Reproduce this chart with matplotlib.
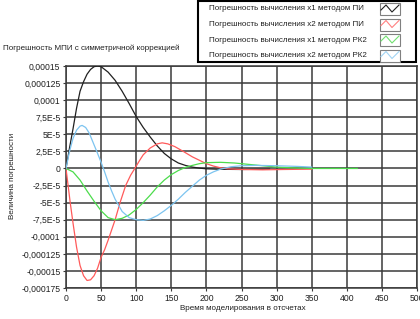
import matplotlib
matplotlib.use("Agg")
import matplotlib.pyplot as plt
from matplotlib.lines import Line2D
from matplotlib.patches import Rectangle
from matplotlib.ticker import FixedLocator, FixedFormatter

plt.rcParams['font.family'] = ['Liberation Sans', 'DejaVu Sans']

# ---- data ----
black_x = [0, 5, 10, 15, 20, 25, 30, 35, 40, 45, 50, 60, 70, 80, 90, 100, 110, 120, 130, 140,
           150, 160, 170, 180, 190, 200, 220, 250, 290]
black_y = [0, 3.0e-5, 5.8e-5, 8.8e-5, 11.3e-5, 12.7e-5, 13.8e-5, 14.5e-5, 14.9e-5, 15.0e-5, 14.9e-5,
           14.1e-5, 12.9e-5, 11.3e-5, 9.5e-5, 7.6e-5, 6.0e-5, 4.6e-5, 3.3e-5, 2.2e-5,
           1.4e-5, 0.8e-5, 0.45e-5, 0.2e-5, 0.05e-5, -0.05e-5, -0.12e-5, -0.15e-5, -0.1e-5]

red_x = [0, 3, 6, 10, 15, 20, 25, 30, 35, 40, 45, 50, 55, 60, 65, 70, 77, 85, 92, 98, 105, 110,
         120, 130, 137, 145, 155, 167, 180, 190, 200, 210, 220, 230, 250, 280, 310, 350]
red_y = [0, -2.5e-5, -5.0e-5, -8.0e-5, -11.5e-5, -14.2e-5, -15.7e-5, -16.4e-5, -16.3e-5, -15.7e-5,
         -14.6e-5, -13.0e-5, -11.9e-5, -10.5e-5, -9.0e-5, -7.5e-5, -5.0e-5, -2.5e-5, -1.0e-5, 0,
         1.2e-5, 2.0e-5, 3.0e-5, 3.6e-5, 3.75e-5, 3.6e-5, 3.2e-5, 2.5e-5, 1.7e-5, 1.2e-5, 0.7e-5,
         0.35e-5, 0.1e-5, -0.05e-5, -0.15e-5, -0.2e-5, -0.15e-5, -0.1e-5]

green_x = [0, 10, 20, 30, 40, 50, 60, 70, 80, 90, 100, 110, 120, 130, 140, 150, 160, 170, 180,
           190, 200, 220, 240, 260, 280, 300, 320, 350, 415]
green_y = [0, -0.5e-5, -1.7e-5, -3.3e-5, -4.8e-5, -6.2e-5, -7.2e-5, -7.5e-5, -7.3e-5, -6.8e-5,
           -6.0e-5, -5.0e-5, -3.9e-5, -2.7e-5, -1.7e-5, -0.9e-5, -0.3e-5, 0.15e-5, 0.45e-5,
           0.7e-5, 0.85e-5, 0.9e-5, 0.8e-5, 0.6e-5, 0.4e-5, 0.2e-5, 0.1e-5, 0, 0]

cyan_x = [0, 5, 10, 15, 20, 23, 28, 33, 39, 45, 50, 55, 60, 65, 70, 80, 90, 100, 110, 120, 130,
          140, 150, 160, 170, 180, 190, 200, 210, 220, 235, 250, 270, 300, 330, 350]
cyan_y = [0, 2.5e-5, 4.4e-5, 5.6e-5, 6.2e-5, 6.3e-5, 6.0e-5, 5.2e-5, 3.7e-5, 2.2e-5, 0.9e-5,
          -0.5e-5, -2.0e-5, -3.3e-5, -4.5e-5, -6.3e-5, -7.2e-5, -7.5e-5, -7.6e-5, -7.4e-5,
          -6.9e-5, -6.2e-5, -5.4e-5, -4.5e-5, -3.5e-5, -2.6e-5, -1.7e-5, -1.0e-5, -0.5e-5,
          -0.1e-5, 0.25e-5, 0.4e-5, 0.45e-5, 0.4e-5, 0.3e-5, 0.2e-5]

series_labels = ["Погрешность вычисления x1 методом ПИ",
                 "Погрешность вычисления x2 методом ПИ",
                 "Погрешность вычисления x1 методом РК2",
                 "Погрешность вычисления x2 методом РК2"]
series_colors = ["#202020", "#ff5a5a", "#4cdc4c", "#7cc4f0"]
legend_colors = ["#202020", "#ff8080", "#70e070", "#a0d4f4"]

x_ticks = [0, 50, 100, 150, 200, 250, 300, 350, 400, 450, 500]
y_ticks = [0.00015, 0.000125, 0.0001, 7.5e-5, 5e-5, 2.5e-5, 0, -2.5e-5, -5e-5, -7.5e-5,
           -0.0001, -0.000125, -0.00015, -0.000175]
y_tick_labels = ["0,00015", "0,000125", "0,0001", "7,5E-5", "5E-5", "2,5E-5", "0",
                 "-2,5E-5", "-5E-5", "-7,5E-5", "-0,0001", "-0,000125", "-0,00015", "-0,000175"]

title_text = "Погрешность МПИ с симметричной коррекцией"
x_label = "Время моделирования в отсчетах"
y_label = "Величина погрешности"

# ---- figure ----
W, H = 420, 319
fs_tick = 6.2
fs_text = 5.8
fig = plt.figure(figsize=(W / 100, H / 100), dpi=100)
fig.patch.set_facecolor("white")
ax = fig.add_axes([66 / W, 1 - 288 / H, (417 - 66) / W, (288 - 66) / H])
ax.set_facecolor("white")

for xs, ys, c in zip([black_x, red_x, green_x, cyan_x], [black_y, red_y, green_y, cyan_y], series_colors):
    ax.plot(xs, ys, color=c, lw=0.9, zorder=3)

ax.set_xlim(0, 500)
ax.set_ylim(-0.000175, 0.00015)
ax.xaxis.set_major_locator(FixedLocator(x_ticks))
ax.yaxis.set_major_locator(FixedLocator(y_ticks))
ax.yaxis.set_major_formatter(FixedFormatter(y_tick_labels))
ax.grid(True, color="#3a3a3a", lw=1.1, zorder=1)
for s in ax.spines.values():
    s.set_color("#3a3a3a")
    s.set_linewidth(1.1)
ax.tick_params(axis="both", labelsize=fs_tick, length=2.5, width=0.8, color="#3a3a3a", pad=1.5,
               labelcolor="#202020")

fig.text(243 / W, 1 - 308 / H, x_label, ha="center", va="center", fontsize=fs_text, color="#202020")
fig.text(13 / W, 1 - 176 / H, y_label, ha="center", va="center", rotation=90, fontsize=fs_text,
         color="#202020")
fig.text(3 / W, 1 - 48 / H, title_text, ha="left", va="center", fontsize=fs_text, color="#202020")

# ---- legend box ----
fig.add_artist(Rectangle((198 / W, 1 - 62 / H), (416 - 198) / W, 61 / H, transform=fig.transFigure,
                         facecolor="white", edgecolor="black", lw=1.5, zorder=5))
rows_y = [9, 24.5, 40, 55.5]
for ty, lab, c in zip(rows_y, series_labels, legend_colors):
    fig.text(209 / W, 1 - ty / H, lab, ha="left", va="center", fontsize=fs_text, color="#202020", zorder=6)
    bx0, bx1 = 380, 400
    by0, by1 = ty - 6, ty + 6
    fig.add_artist(Rectangle((bx0 / W, 1 - by1 / H), (bx1 - bx0) / W, (by1 - by0) / H,
                             transform=fig.transFigure, facecolor="white", edgecolor="#808080",
                             lw=0.8, zorder=6))
    px = [bx0 + 1, bx0 + 6, bx0 + 12, bx1 - 1]
    py = [ty + 1, ty - 4, ty + 3, ty - 4]
    fig.add_artist(Line2D([p / W for p in px], [1 - p / H for p in py], transform=fig.transFigure,
                          color=c, lw=0.8, zorder=7))

fig.savefig("out.png", dpi=100)
